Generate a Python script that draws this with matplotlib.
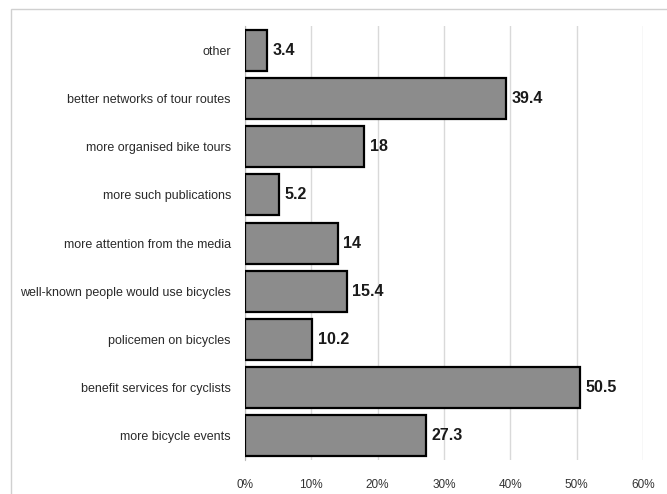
import matplotlib
matplotlib.use('Agg')
import matplotlib.pyplot as plt
from matplotlib.patches import Rectangle

categories = ['other', 'better networks of tour routes', 'more organised bike tours',
              'more such publications', 'more attention from the media',
              'well-known people would use bicycles', 'policemen on bicycles',
              'benefit services for cyclists', 'more bicycle events']
values = [3.4, 39.4, 18, 5.2, 14, 15.4, 10.2, 50.5, 27.3]
xticks = [0, 10, 20, 30, 40, 50, 60]

plt.rcParams['font.family'] = ['Liberation Sans', 'DejaVu Sans']

fig = plt.figure(figsize=(6.67, 4.94), dpi=100)
ax = fig.add_axes([0.367, 0.069, 0.597, 0.878])

# light chart-area border
fig.patches.append(Rectangle((11 / 667, -0.01), 1.0, 1 - 9 / 494 + 0.01,
                             transform=fig.transFigure, fill=False,
                             edgecolor='#d0d0d0', linewidth=1))

pos = list(range(len(categories)))
ax.barh(pos, values, height=0.85, color='#8c8c8c', edgecolor='black',
        linewidth=1.6, zorder=3)

for y, v in zip(pos, values):
    ax.text(v + 0.8, y, f'{v:g}', va='center', ha='left', fontsize=11.5,
            fontweight='bold', color='#1a1a1a')

ax.set_ylim(len(categories) - 0.5, -0.5)
ax.set_xlim(0, 60)
ax.set_yticks(pos)
ax.set_yticklabels(categories, fontsize=9.0, color='#2a2a2a')
ax.set_xticks(xticks)
ax.set_xticklabels([f'{t}%' for t in xticks], fontsize=8.5, color='#333333')
ax.tick_params(axis='both', length=0)
ax.tick_params(axis='y', pad=10)
ax.tick_params(axis='x', pad=14)

ax.grid(axis='x', color='#d9d9d9', linewidth=1, zorder=0)
for s in ['top', 'right', 'bottom']:
    ax.spines[s].set_visible(False)
ax.spines['left'].set_color('#bbbbbb')

plt.savefig('out.png', dpi=100)
